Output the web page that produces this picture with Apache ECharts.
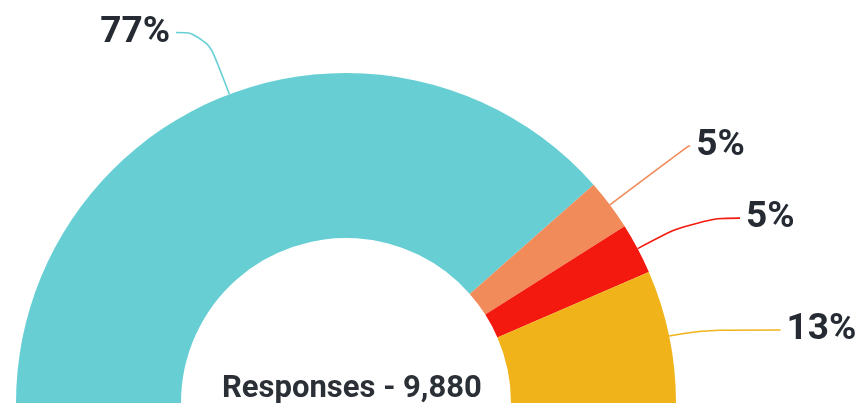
<!DOCTYPE html>
<html>
<head>
<meta charset="utf-8">
<script src="https://cdn.jsdelivr.net/npm/echarts@6/dist/echarts.min.js"></script>
<style>
  html, body { margin: 0; padding: 0; background: #fff; }
  #chart { width: 859px; height: 410px; }
</style>
</head>
<body>
<div id="chart"></div>
<script>
// data
const categories = ['Group A', 'Group B', 'Group C', 'Group D']
const values = [77, 5, 5, 13]
const colors = ['#67cfd4', '#f28b5a', '#f4190f', '#f0b31a']
const totalResponses = '9,880'

// label line lengths per slice (outer radial part, horizontal part)
const lineLen = [66, 98, 65, 30]
const lineLen2 = [30, 2, 45, 82]

const chart = echarts.init(document.getElementById('chart'))

const option = {
  animation: false,
  graphic: [
    {
      type: 'text',
      left: 222,
      top: 374,
      style: {
        text: 'Responses - ' + totalResponses,
        font: 'bold 31px Roboto',
        fill: '#2b2f36'
      }
    }
  ],
  series: [
    {
      type: 'pie',
      center: [346, 403],
      radius: [165, 330],
      startAngle: 180,
      endAngle: 0,
      avoidLabelOverlap: false,
      label: {
        show: true,
        formatter: '{c}%',
        fontFamily: 'Roboto',
        fontWeight: 'bold',
        fontSize: 37,
        color: '#262b33',
        distanceToLabelLine: 6
      },
      labelLine: {
        show: true,
        smooth: 0.5,
        lineStyle: { width: 1.6 }
      },
      data: categories.map((name, i) => ({
        name: name,
        value: values[i],
        itemStyle: { color: colors[i] },
        labelLine: { length: lineLen[i], length2: lineLen2[i] }
      }))
    }
  ]
}

chart.setOption(option)
window.addEventListener('resize', function () {
  chart.resize()
})
</script>
</body>
</html>
